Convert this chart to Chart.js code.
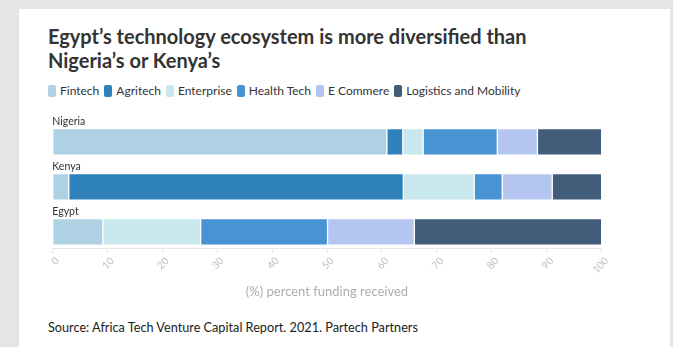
<!DOCTYPE html>
<html>
<head>
<meta charset="utf-8">
<script src="https://cdn.jsdelivr.net/npm/chart.js@4/dist/chart.umd.min.js"></script>
<style>
  html, body { margin: 0; padding: 0; }
  body { width: 673px; height: 347px; background: #e5e5e5; position: relative; overflow: hidden; font-family: Lato, "Open Sans", sans-serif; }
  #card { position: absolute; left: 19px; top: 9px; width: 651px; height: 338px; background: #fff; }
  #title { position: absolute; left: 48px; top: 24px; margin: 0; font-size: 20px; line-height: 24px; font-weight: 700; color: #333; }
  #legend { position: absolute; left: 48px; top: 83px; display: flex; align-items: center; font-size: 12px; color: #333; }
  .item { display: flex; align-items: center; margin-right: 5px; }
  .box { width: 8px; height: 12px; border-radius: 2px; margin-right: 4px; }
  #source { position: absolute; left: 48px; top: 319px; font-size: 12.7px; color: #222; }
  #wrap { position: absolute; left: 0; top: 0; width: 673px; height: 347px; }
</style>
</head>
<body>
<div id="card"></div>
<h1 id="title">Egypt’s technology ecosystem is more diversified than<br>Nigeria’s or Kenya’s</h1>
<div id="legend"></div>
<div id="source">Source: Africa Tech Venture Capital Report. 2021. Partech Partners</div>
<div id="wrap"><canvas id="chart"></canvas></div>
<script>
// Countries, top to bottom
const categories = ['Nigeria', 'Kenya', 'Egypt'];

// Share of funding received per sector (%)
const fintech    = [60.9,  3.0,  9.2];
const agritech   = [ 2.9, 60.9,  0.0];
const enterprise = [ 3.7, 12.9, 17.8];
const healthTech = [13.5,  5.1, 23.1];
const eCommerce  = [ 7.3,  9.1, 15.8];
const logistics  = [11.7,  9.0, 34.1];

const seriesNames  = ['Fintech', 'Agritech', 'Enterprise', 'Health Tech', 'E Commere', 'Logistics and Mobility'];
const seriesValues = [fintech, agritech, enterprise, healthTech, eCommerce, logistics];
const seriesColors = ['#aed2e4', '#2f81ba', '#c8e8ee', '#4893d4', '#b4c6f0', '#425d7a'];

const xTicks = [0, 10, 20, 30, 40, 50, 60, 70, 80, 90, 100];
const axisTitle = '(%) percent funding received';

// Legend row
const legendEl = document.getElementById('legend');
seriesNames.forEach((name, i) => {
  const item = document.createElement('div');
  item.className = 'item';
  const box = document.createElement('span');
  box.className = 'box';
  box.style.background = seriesColors[i];
  const txt = document.createElement('span');
  txt.textContent = name;
  item.appendChild(box);
  item.appendChild(txt);
  legendEl.appendChild(item);
});

const BAR_THICKNESS = 26.5;

// Country names written just above each bar
const categoryLabels = {
  id: 'categoryLabels',
  afterDatasetsDraw(chart) {
    const { ctx, scales: { x, y } } = chart;
    ctx.save();
    ctx.font = '10.5px Lato, sans-serif';
    ctx.fillStyle = '#333';
    ctx.textAlign = 'left';
    ctx.textBaseline = 'bottom';
    categories.forEach((name, i) => {
      const py = y.getPixelForValue(i) - BAR_THICKNESS / 2 - 2;
      ctx.fillText(name, x.left, py);
    });
    ctx.restore();
  }
};

new Chart(document.getElementById('chart'), {
  type: 'bar',
  data: {
    datasets: seriesNames.map((name, s) => ({
      label: name,
      data: seriesValues[s].map((v, i) => ({ x: v, y: i })),
      backgroundColor: seriesColors[s],
      borderColor: 'rgba(255,255,255,0.45)',
      borderWidth: 1,
      borderSkipped: false,
      barThickness: BAR_THICKNESS
    }))
  },
  options: {
    indexAxis: 'y',
    responsive: true,
    maintainAspectRatio: false,
    animation: false,
    layout: { padding: { left: 52.3, right: 71.3, top: 110, bottom: 39 } },
    plugins: { legend: { display: false }, tooltip: { enabled: false } },
    scales: {
      x: {
        type: 'linear',
        stacked: true,
        min: 0,
        max: 100,
        afterBuildTicks(scale) { scale.ticks = xTicks.map(v => ({ value: v })); },
        afterFit(scale) { scale.height = 60; },
        ticks: {
          color: '#bdbdbd',
          font: { family: 'Lato, sans-serif', size: 10 },
          minRotation: 45,
          maxRotation: 45,
          labelOffset: 5,
          padding: 2
        },
        grid: { display: true, drawOnChartArea: false, drawTicks: true, tickLength: 5, color: '#e6e6e6' },
        border: { display: true, color: '#e6e6e6' },
        title: {
          display: true,
          text: axisTitle,
          color: '#adadad',
          font: { family: 'Lato, sans-serif', size: 13 },
          padding: { top: 0, bottom: 8 }
        }
      },
      y: {
        type: 'linear',
        stacked: true,
        reverse: true,
        offset: false,
        min: -0.71,
        max: 2.36,
        display: false
      }
    }
  },
  plugins: [categoryLabels]
});
</script>
</body>
</html>
